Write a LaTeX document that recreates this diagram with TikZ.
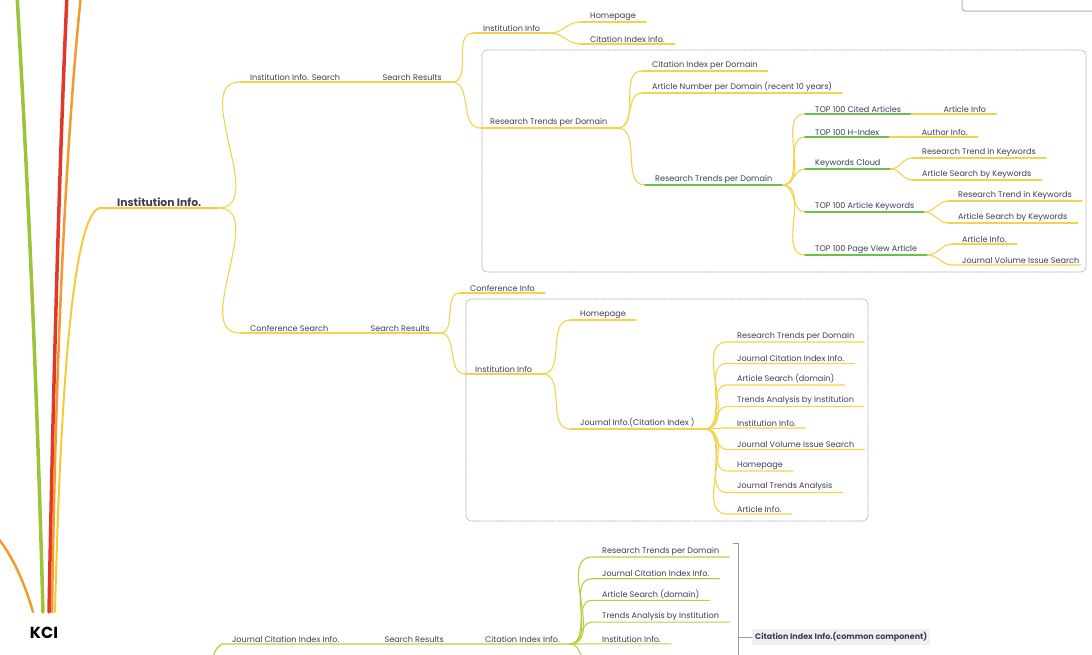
\documentclass[tikz,border=0pt]{standalone}
\usepackage{fontspec}
\setmainfont{Poppins}
\usetikzlibrary{positioning}
\definecolor{txt}{HTML}{3D3D58}
\definecolor{ylw}{HTML}{F3D34A}
\definecolor{grn}{HTML}{6CBF4A}
\definecolor{lgrn}{HTML}{B2D243}
\definecolor{trunkg}{HTML}{9DC33B}
\definecolor{trunkr}{HTML}{E0392B}
\definecolor{trunko}{HTML}{F29A2E}
\definecolor{trunky}{HTML}{F4C93A}

\begin{document}
\begin{tikzpicture}[x=1pt,y=-1pt,line cap=round,
    item/.style={anchor=south west,inner xsep=10pt,inner ysep=1.5pt,font=\fontsize{8.1}{9}\selectfont,text=txt},
    box/.style={densely dotted,gray!70,line width=.7pt,rounded corners=5pt},
    trunk/.style={line width=3.5pt},
    link/.style={ylw,line width=1.1pt}]
    \useasboundingbox (0,0) rectangle (1092,654);
    \clip (0,0) rectangle (1092,654);

    % frames
    \draw[box] (482,50) rectangle (1086,272);
    \draw[box] (466,299) rectangle (868,521);
    \draw[gray!60,line width=1pt,rounded corners=3pt] (962,-5) -- (962,11) -- (1100,11);

    % root
    \node[font=\bfseries\fontsize{16}{17}\selectfont,text=black] (kci) at (44,633) {KCI};
    \coordinate (rg) at (43,612);
    \coordinate (rr) at (49,612);
    \coordinate (ro) at (52,612);
    \coordinate (ry) at (55,612);
    \coordinate (rl) at (33,612);

    % first level
    \node[item,inner xsep=17pt,font=\bfseries\fontsize{10.8}{12}\selectfont] (inst) at (100,208) {Institution Info.};
    \node[item] (iis) at (240,82) {Institution Info. Search};
    \node[item,base right=22pt of iis] (isr) {Search Results};
    \node[item] (iinfo) at (473,33) {Institution Info};
    \node[item] (ihome) at (580,22) {Homepage};
    \node[item] (icit) at (580,44) {Citation Index Info.};
    \node[item] (rtd1) at (480,128) {Research Trends per Domain};
    \node[item] (cipd) at (642,71) {Citation Index per Domain};
    \node[item] (anpd) at (642,93) {Article Number per Domain (recent 10 years)};
    \node[item] (rtd2) at (645,185) {Research Trends per Domain};
    \node[item] (tca) at (805,114) {TOP 100 Cited Articles};
    \node[item,base right=22pt of tca] (ainfa) {Article Info};
    \node[item] (thi) at (805,137) {TOP 100 H-Index};
    \node[item,base right=22pt of thi] (auth) {Author Info.};
    \node[item] (kwc) at (805,169) {Keywords Cloud};
    \node[item] (rtka) at (912,158) {Research Trend in Keywords};
    \node[item] (aska) at (912,180) {Article Search by Keywords};
    \node[item] (tak) at (805,212) {TOP 100 Article Keywords};
    \node[item] (rtkb) at (948,201) {Research Trend in Keywords};
    \node[item] (askb) at (948,223) {Article Search by Keywords};
    \node[item] (tpv) at (805,255) {TOP 100 Page View Article};
    \node[item] (ainfb) at (952,244) {Article Info.};
    \node[item,inner xsep=1pt] (jvis) at (961,265) {Journal Volume Issue Search};

    % conference
    \node[item] (cs) at (240,333) {Conference Search};
    \node[item,base right=22pt of cs] (csr) {Search Results};
    \node[item] (cinfo) at (460,293) {Conference Info};
    \node[item] (cii) at (465,374) {Institution Info};
    \node[item] (chome) at (570,320) {Homepage};
    \node[item] (cji) at (570,429) {Journal Info.(Citation Index )};
    \foreach \t [count=\i] in {Research Trends per Domain,Journal Citation Index Info.,Article Search (domain),Trends Analysis by Institution,Institution Info.,Journal Volume Issue Search,Homepage,Journal Trends Analysis,Article Info.}
        \node[item] (j\i) at (727,{342+21.5*(\i-1)}) {\t};

    % journal citation index
    \coordinate (jroot) at (212,672);
    \node[item] (jci) at (222,644) {Journal Citation Index Info.};
    \node[item,base right=25pt of jci] (jsr) {Search Results};
    \node[item,base right=21pt of jsr] (jcii) {Citation Index Info.};
    \foreach \t [count=\i] in {Research Trends per Domain,Journal Citation Index Info.,Article Search (domain),Trends Analysis by Institution,Institution Info.,Journal Volume Issue Search}
        \node[item] (b\i) at (592,{557+21.7*(\i-1)}) {\t};
    \coordinate (brk) at (738,637);
    \node[anchor=west,fill=gray!12,inner sep=3pt,font=\bfseries\fontsize{8}{9}\selectfont,text=txt] (cmn) at (752,637) {Citation Index Info.(common component)};

    % trunks
    \draw[trunk,trunkg] (rg) .. controls (36,350) and (26,150) .. (17,-5);
    \draw[trunk,trunkr] (rr) .. controls (54,350) and (60,150) .. (67,-5);
    \draw[trunko,line width=2.5pt] (ro) .. controls (56,330) and (68,120) .. (81,-5);
    \draw[trunko,line width=2.5pt] (rl) .. controls (25,585) and (15,560) .. (-2,538);
    \draw[trunky,line width=2pt] (ry) .. controls (62,330) and (78,212) .. (inst.south west) -- (inst.south east);

    % branches
    \foreach \p/\c/\k in {inst/iis/ylw,inst/cs/ylw,iis/isr/ylw,isr/iinfo/ylw,iinfo/ihome/ylw,iinfo/icit/ylw,
            isr/rtd1/ylw,rtd1/cipd/ylw,rtd1/anpd/ylw,rtd1/rtd2/grn,rtd2/tca/grn,tca/ainfa/ylw,rtd2/thi/grn,thi/auth/ylw,
            rtd2/kwc/grn,kwc/rtka/ylw,kwc/aska/ylw,rtd2/tak/grn,tak/rtkb/ylw,tak/askb/ylw,rtd2/tpv/grn,tpv/ainfb/ylw,
            cs/csr/ylw,csr/cinfo/ylw,csr/cii/ylw,cii/chome/ylw,cii/cji/ylw} {
        \draw[link] (\p.south east) to[out=0,in=180] (\c.south west);
        \draw[link,\k] (\c.south west) -- (\c.south east);
    }
    \draw[link] (tpv.south east) to[out=0,in=180] ([xshift=-9pt]jvis.south west) -- (jvis.south east);
    \foreach \i in {1,...,9}
        \draw[link] (cji.south east) to[out=0,in=180] (j\i.south west) -- (j\i.south east);
    \draw[link,lgrn,line width=1.3pt] (jroot) .. controls (214,650) .. (jci.south west) -- (jci.south east)
        -- (jsr.south west) -- (jsr.south east) -- (jcii.south west) -- (jcii.south east);
    \foreach \i in {1,...,6}
        \draw[link,lgrn] (jcii.south east) to[out=0,in=180] (b\i.south west) -- (b\i.south east);

    % bracket
    \draw[gray!80,line width=1pt] (733,543) -- (738,543) -- (738,660);
    \draw[gray!80,line width=1pt] (brk) -- (cmn.west);
\end{tikzpicture}
\end{document}
